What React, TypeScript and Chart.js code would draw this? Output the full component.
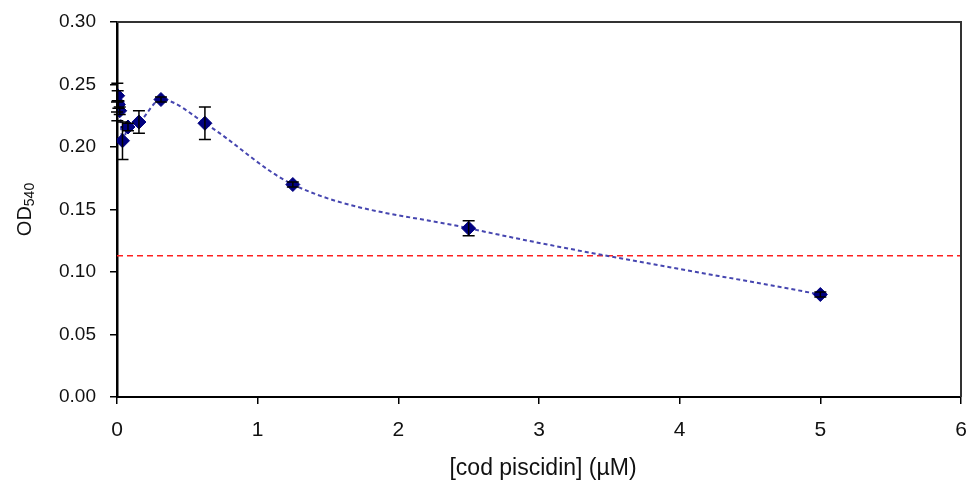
import React, { useEffect, useRef } from "react";
import { Chart, registerables } from "chart.js";

Chart.register(...registerables);

const concentrations = [0, 0.0024, 0.0049, 0.0098, 0.0195, 0.039, 0.078, 0.156, 0.3125, 0.625, 1.25, 2.5, 5];
const od540 = [0.232, 0.236, 0.241, 0.234, 0.229, 0.205, 0.216, 0.22, 0.238, 0.219, 0.17, 0.135, 0.082];
const od540Err = [0.004, 0.015, 0.004, 0.003, 0.003, 0.015, 0.003, 0.009, 0.002, 0.013, 0.002, 0.006, 0.002];
const thresholdX = [0, 6];
const thresholdY = [0.113, 0.113];
const xTitle = "[cod piscidin] (µM)";
const yTitleMain = "OD";
const yTitleSub = "540";

const FONT = "'Liberation Sans', Arial, sans-serif";

const errorBarPlugin = {
  id: "errorBars",
  afterDatasetsDraw(chart: any) {
    const meta = chart.getDatasetMeta(0);
    const y = chart.scales.y;
    const ctx = chart.ctx;
    ctx.save();
    ctx.strokeStyle = "#000";
    ctx.lineWidth = 1.5;
    meta.data.forEach((pt: any, i: number) => {
      const e = od540Err[i];
      if (!e) return;
      const top = y.getPixelForValue(od540[i] + e);
      const bot = y.getPixelForValue(od540[i] - e);
      const px = pt.x;
      ctx.beginPath();
      ctx.moveTo(px, top);
      ctx.lineTo(px, bot);
      ctx.moveTo(px - 6, top);
      ctx.lineTo(px + 6, top);
      ctx.moveTo(px - 6, bot);
      ctx.lineTo(px + 6, bot);
      ctx.stroke();
    });
    ctx.restore();
  },
};

const framePlugin = {
  id: "frameAndTitles",
  afterDraw(chart: any) {
    const { ctx, chartArea } = chart;
    const { left, right, top, bottom } = chartArea;
    ctx.save();
    ctx.strokeStyle = "#333";
    ctx.lineWidth = 2;
    ctx.beginPath();
    ctx.moveTo(left, top);
    ctx.lineTo(right, top);
    ctx.lineTo(right, bottom);
    ctx.stroke();
    ctx.fillStyle = "#111";
    ctx.font = `23px ${FONT}`;
    ctx.textAlign = "center";
    ctx.textBaseline = "middle";
    ctx.fillText(xTitle, (left + right) / 2 + 4, 469);
    ctx.translate(24, (top + bottom) / 2);
    ctx.rotate(-Math.PI / 2);
    ctx.font = `20px ${FONT}`;
    const w1 = ctx.measureText(yTitleMain).width;
    ctx.font = `14px ${FONT}`;
    const w2 = ctx.measureText(yTitleSub).width;
    const start = -(w1 + w2) / 2;
    ctx.textAlign = "left";
    ctx.textBaseline = "alphabetic";
    ctx.font = `20px ${FONT}`;
    ctx.fillText(yTitleMain, start, 7);
    ctx.font = `14px ${FONT}`;
    ctx.fillText(yTitleSub, start + w1, 10);
    ctx.restore();
  },
};

export default function App() {
  const ref = useRef<HTMLCanvasElement>(null);
  useEffect(() => {
    if (!ref.current) return;
    const chart = new Chart(ref.current, {
      type: "scatter",
      data: {
        datasets: [
          {
            data: concentrations.map((x, i) => ({ x, y: od540[i] })),
            showLine: true,
            borderColor: "#4646b0",
            borderWidth: 2,
            borderDash: [4, 3],
            cubicInterpolationMode: "monotone",
            pointStyle: "rectRot",
            pointRadius: 7,
            pointBackgroundColor: "#000080",
            pointBorderColor: "#000080",
            pointBorderWidth: 1,
            order: 1,
          },
          {
            data: thresholdX.map((x, i) => ({ x, y: thresholdY[i] })),
            showLine: true,
            borderColor: "#ff2020",
            borderWidth: 1.5,
            borderDash: [6, 4],
            pointRadius: 0,
            order: 2,
          },
        ],
      },
      options: {
        responsive: false,
        animation: false,
        devicePixelRatio: 1,
        layout: { padding: { left: 0, top: 22, right: 6, bottom: 0 } },
        plugins: { legend: { display: false }, tooltip: { enabled: false } },
        scales: {
          x: {
            type: "linear",
            min: 0,
            max: 6,
            ticks: {
              stepSize: 1,
              padding: 14,
              color: "#111",
              font: { family: FONT, size: 21 },
            },
            grid: {
              display: true,
              drawOnChartArea: false,
              drawTicks: true,
              tickLength: 7,
              tickColor: "#000",
              lineWidth: 1.5,
            },
            border: { display: true, color: "#000", width: 2 },
            afterFit(scale: any) {
              scale.height = 85;
              scale.paddingLeft = 0;
              scale.paddingRight = 0;
            },
          },
          y: {
            type: "linear",
            min: 0,
            max: 0.3,
            ticks: {
              stepSize: 0.05,
              padding: 14,
              color: "#111",
              font: { family: FONT, size: 19 },
              callback: (v: any) => Number(v).toFixed(2),
            },
            grid: {
              display: true,
              drawOnChartArea: false,
              drawTicks: true,
              tickLength: 7,
              tickColor: "#000",
              lineWidth: 1.5,
            },
            border: { display: true, color: "#000", width: 2.5 },
            afterFit(scale: any) {
              scale.width = 117;
              scale.paddingTop = 0;
              scale.paddingBottom = 0;
            },
          },
        },
      },
      plugins: [errorBarPlugin, framePlugin],
    } as any);
    return () => chart.destroy();
  }, []);
  return (
    <div style={{ position: "fixed", left: 0, top: 0, width: 969, height: 482, background: "#fff" }}>
      <canvas ref={ref} width={969} height={482} />
    </div>
  );
}
